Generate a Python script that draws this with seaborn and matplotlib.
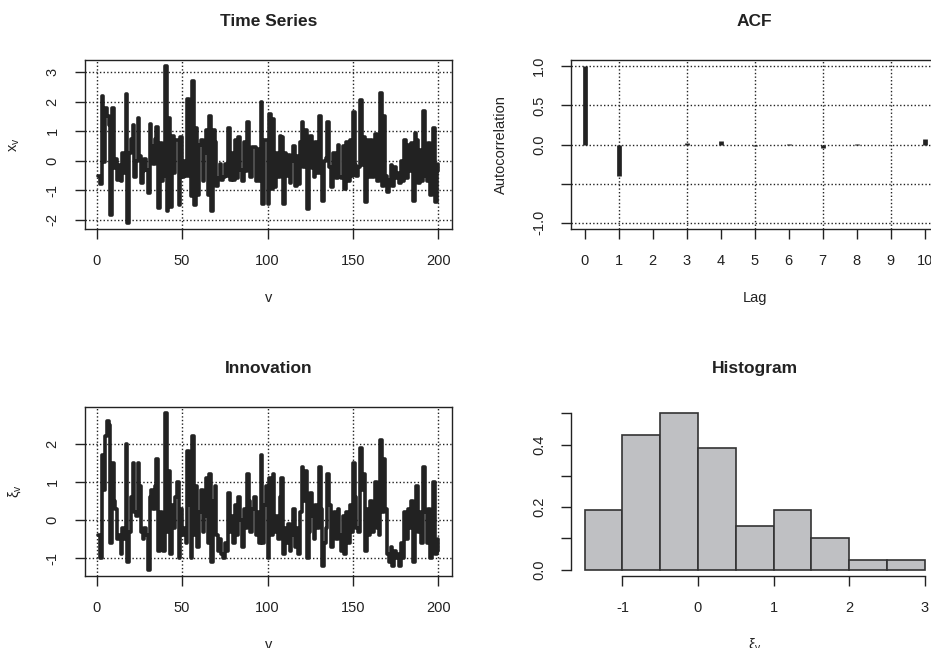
import numpy as np
import matplotlib
matplotlib.use("Agg")
import matplotlib.pyplot as plt
import seaborn as sns

# innovation xi_v
xi = [-0.4, -1.0, 1.7, 0.8, 2.2, 2.6, 2.5, -0.6, 1.5, 0.5,
      0.3, -0.5, -0.4, -0.9, -0.2, -0.5, 2.0, -1.1, -0.3, 0.6,
      1.5, 0.2, 0.1, 1.5, 0.9, -0.3, -0.5, -0.2, -0.4, -1.3,
      0.6, 0.8, 0.3, 0.9, 1.6, -0.8, 0.2, -0.6, -0.8, 2.8,
      -0.3, 1.3, -0.9, 0.4, -0.2, 0.6, 1.0, -1.0, 0.3, -0.4,
      -0.2, -0.6, 1.8, 0.4, -1.0, 2.2, -0.4, 0.9, -0.7, 0.2,
      0.8, -0.3, 0.1, 1.1, -0.6, 1.2, -1.1, 0.5, 0.9, -0.4,
      -0.8, -0.5, -0.9, -1.0, -0.6, -0.8, 0.7, -0.3, 0.1, -0.6,
      0.4, -0.4, 0.6, 0.0, -0.7, 0.3, -0.2, 1.2, 0.5, -0.3,
      0.3, 0.6, -0.4, 0.2, -0.6, 1.7, -0.6, 0.4, 0.9, -1.0,
      1.1, -0.4, 1.2, -0.3, 0.1, -0.5, 0.6, 1.1, -0.9, -0.2,
      -0.6, -0.1, -0.8, -0.4, 0.3, -0.7, -0.2, -0.9, 0.2, 1.4,
      0.5, 1.3, -1.0, -0.3, 0.7, 0.1, -0.5, 0.4, -0.2, 1.4,
      0.3, -1.2, -0.6, -0.2, 1.2, 0.4, -0.7, -0.1, 0.2, -0.5,
      0.3, -0.4, -0.8, 0.1, -0.9, 0.2, -0.6, 0.4, -0.3, 1.5,
      0.6, -0.2, -0.3, 1.9, 0.8, 1.2, -0.8, 0.3, -0.4, 0.5,
      -0.3, 0.2, 1.0, -0.2, -0.4, 2.1, 0.2, 1.6, 0.3, -0.9,
      -1.1, -0.7, -1.2, -0.8, -1.0, -0.9, -1.2, -0.6, -1.0, 0.2,
      -0.5, 0.3, -0.2, 0.5, -1.1, 0.4, 0.9, -0.3, 0.2, -0.6,
      1.4, 0.2, -0.6, 0.3, -1.0, -0.2, 1.0, -0.9, -0.8, -0.5]

# time series x_v
xv = [-0.5, -0.8, 2.2, -0.05, 1.8, 1.5, 1.2, -1.85, 1.8, -0.25,
      0.05, -0.65, -0.15, -0.7, 0.25, -0.4, 2.25, -2.1, 0.25, 0.75,
      1.2, -0.55, 0.0, 1.45, 0.15, -0.75, -0.35, 0.05, -0.3, -1.1,
      1.25, 0.5, -0.1, 0.75, 1.15, -1.6, 0.6, -0.7, -0.5, 3.2,
      -1.7, 1.45, -1.55, 0.85, -0.4, 0.7, 0.7, -1.5, 0.8, -0.55,
      0.0, -0.5, 2.1, -0.5, -1.2, 2.7, -1.5, 1.1, -1.15, 0.55,
      0.7, -0.7, 0.25, 1.05, -1.15, 1.5, -1.7, 1.05, 0.65, -0.85,
      -0.6, -0.1, -0.65, -0.55, -0.1, -0.5, 1.1, -0.65, 0.25, -0.65,
      0.7, -0.6, 0.8, -0.3, -0.7, 0.65, -0.35, 1.3, -0.1, -0.55,
      0.45, 0.45, -0.7, 0.4, -0.7, 2.0, -1.45, 0.7, 0.7, -1.45,
      1.6, -0.95, 1.4, -0.9, 0.25, -0.55, 0.85, 0.8, -1.45, 0.25,
      -0.5, 0.2, -0.75, 0.0, 0.5, -0.85, 0.15, -0.8, 0.65, 1.3,
      -0.2, 1.05, -1.65, 0.2, 0.85, -0.25, -0.55, 0.65, -0.4, 1.5,
      -0.4, -1.35, 0.0, 0.1, 1.3, -0.2, -0.9, 0.25, 0.25, -0.6,
      0.55, -0.55, -0.6, 0.5, -0.95, 0.65, -0.7, 0.7, -0.5, 1.65,
      -0.15, -0.5, -0.2, 2.05, -0.15, 0.8, -1.4, 0.7, -0.55, 0.7,
      -0.55, 0.35, 0.9, -0.7, -0.3, 2.3, -0.85, 1.5, -0.5, -1.05,
      -0.65, -0.15, -0.85, -0.2, -0.6, -0.4, -0.75, 0.0, -0.7, 0.7,
      -0.6, 0.55, -0.35, 0.6, -1.35, 0.95, 0.7, -0.75, 0.35, -0.7,
      1.7, -0.5, -0.7, 0.6, -1.15, 0.3, 1.1, -1.4, -0.35, -0.1]

v = np.arange(1, len(xv) + 1)

# ACF of x_v
lags = list(range(11))
acf_vals = [1.0, -0.40, -0.01, 0.02, 0.04, -0.02, 0.01, -0.05, 0.01, -0.01, 0.07]

# histogram of xi_v (density)
hist_edges = [-1.5, -1.0, -0.5, 0.0, 0.5, 1.0, 1.5, 2.0, 2.5, 3.0]
hist_density = [0.19, 0.43, 0.50, 0.39, 0.14, 0.19, 0.10, 0.03, 0.03]

sns.set_style("white")
plt.rcParams["font.family"] = ["Liberation Sans", "DejaVu Sans"]
plt.rcParams["mathtext.default"] = "regular"
plt.rcParams["axes.unicode_minus"] = False

INK = "#222222"
TICK_FS = 10.5
PAD = 11
grid_kw = dict(color="#222222", linestyle=(0, (1, 1.6)), linewidth=1.0)

fig = plt.figure(figsize=(9.31, 6.48), dpi=100)
pos = {"ts": [0.091, 0.6466, 0.3946, 0.2608],
       "acf": [0.6133, 0.6466, 0.3946, 0.2608],
       "inn": [0.091, 0.1111, 0.3946, 0.2608],
       "hist": [0.6133, 0.1111, 0.3946, 0.2608]}


def style(ax, title, xlab, ylab):
    ax.tick_params(direction="out", length=7, width=1, colors=INK,
                   labelsize=TICK_FS, pad=PAD, left=True, bottom=True)
    for lab in ax.get_yticklabels():
        lab.set_rotation(90)
        lab.set_va("center")
    ax.text(0.5, 1.225, title, transform=ax.transAxes, ha="center",
            va="center", fontsize=12.5, fontweight="bold", color=INK)
    ax.set_xlabel(xlab, fontsize=TICK_FS, color=INK, va="center")
    ax.xaxis.set_label_coords(0.5, -0.408)
    ax.set_ylabel(ylab, fontsize=TICK_FS, color=INK, va="center")
    ax.yaxis.set_label_coords(-0.19, 0.5)


def series_panel(ax, y, title, ylab, yticks):
    sns.lineplot(x=v, y=y, drawstyle="steps-post", color=INK,
                 linewidth=2.6, ax=ax)
    lo, hi = min(y), max(y)
    r = hi - lo
    ax.set_xlim(1 - 0.04 * 199, 200 + 0.04 * 199)
    ax.set_ylim(lo - 0.04 * r, hi + 0.04 * r)
    ax.set_xticks([0, 50, 100, 150, 200])
    ax.set_yticks(yticks)
    for t in [0, 50, 100, 150, 200]:
        ax.axvline(t, zorder=0, **grid_kw)
    for t in yticks:
        ax.axhline(t, zorder=0, **grid_kw)
    for s in ax.spines.values():
        s.set_color(INK)
        s.set_linewidth(1.0)
    style(ax, title, "v", ylab)


ax1 = fig.add_axes(pos["ts"])
series_panel(ax1, xv, "Time Series", r"$x_v$", [-2, -1, 0, 1, 2, 3])

ax3 = fig.add_axes(pos["inn"])
series_panel(ax3, xi, "Innovation", r"$\xi_v$", [-1, 0, 1, 2])

# ACF panel
ax2 = fig.add_axes(pos["acf"])
ax2.vlines(lags, 0, acf_vals, color=INK, linewidth=3.4)
ax2.set_xlim(-0.4, 10.4)
ax2.set_ylim(-1.08, 1.08)
ax2.set_xticks(lags)
ax2.set_yticks([-1.0, -0.5, 0.0, 0.5, 1.0])
ax2.set_yticklabels(["-1.0", "", "0.0", "0.5", "1.0"])
for t in [1, 3, 5, 7, 9]:
    ax2.axvline(t, zorder=0, **grid_kw)
for t in [-1.0, -0.5, 0.0, 0.5, 1.0]:
    ax2.axhline(t, zorder=0, **grid_kw)
for s in ax2.spines.values():
    s.set_color(INK)
    s.set_linewidth(1.0)
style(ax2, "ACF", "Lag", "Autocorrelation")

# histogram panel
ax4 = fig.add_axes(pos["hist"])
centers = [(a + b) / 2 for a, b in zip(hist_edges[:-1], hist_edges[1:])]
sns.histplot(x=centers, weights=hist_density, bins=hist_edges, stat="count",
             color="#bfc0c3", edgecolor="#333333", linewidth=1.2, alpha=1.0,
             ax=ax4)
ax4.set_xlim(-1.68, 3.18)
ax4.set_ylim(-0.02, 0.52)
ax4.set_xticks([-1, 0, 1, 2, 3])
ax4.set_yticks([0.0, 0.1, 0.2, 0.3, 0.4, 0.5])
ax4.set_yticklabels(["0.0", "", "0.2", "", "0.4", ""])
for side in ["top", "right"]:
    ax4.spines[side].set_visible(False)
ax4.spines["left"].set_bounds(0, 0.5)
ax4.spines["bottom"].set_bounds(-1, 3)
for side in ["left", "bottom"]:
    ax4.spines[side].set_color(INK)
    ax4.spines[side].set_linewidth(1.0)
style(ax4, "Histogram", r"$\xi_v$", "")

fig.savefig("out.png", dpi=100)
